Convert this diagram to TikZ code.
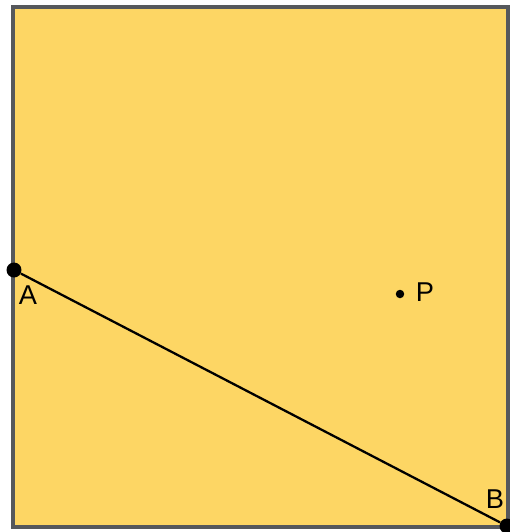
\documentclass[tikz,border=0pt]{standalone}
\usepackage{fontspec}
\setmainfont{Liberation Sans}
\definecolor{sheet}{RGB}{253,214,100}
\definecolor{rim}{RGB}{85,88,92}

\begin{document}
\begin{tikzpicture}[x=0.02cm, y=-0.02cm,
    bigdot/.style={circle,fill,inner sep=0pt,minimum size=0.3cm},
    smalldot/.style={circle,fill,inner sep=0pt,minimum size=0.17cm},
    lbl/.style={font=\fontsize{15.5}{17}\selectfont}]
  \useasboundingbox (0,0) rectangle (510,532);
  \filldraw[fill=sheet, draw=rim, line width=1.8pt] (13,7) rectangle (508,527);
  \node[bigdot] (A) at (14,270) {};
  \node[bigdot] (B) at (507,526) {};
  \node[smalldot] (P) at (400,294) {};
  \draw[line width=1.3pt] (A) -- (B);
  \node[lbl] (la) at (28,295) {A};
  \node[lbl] (lb) at (495,499) {B};
  \node[lbl] (lp) at (425,292) {P};
\end{tikzpicture}
\end{document}
